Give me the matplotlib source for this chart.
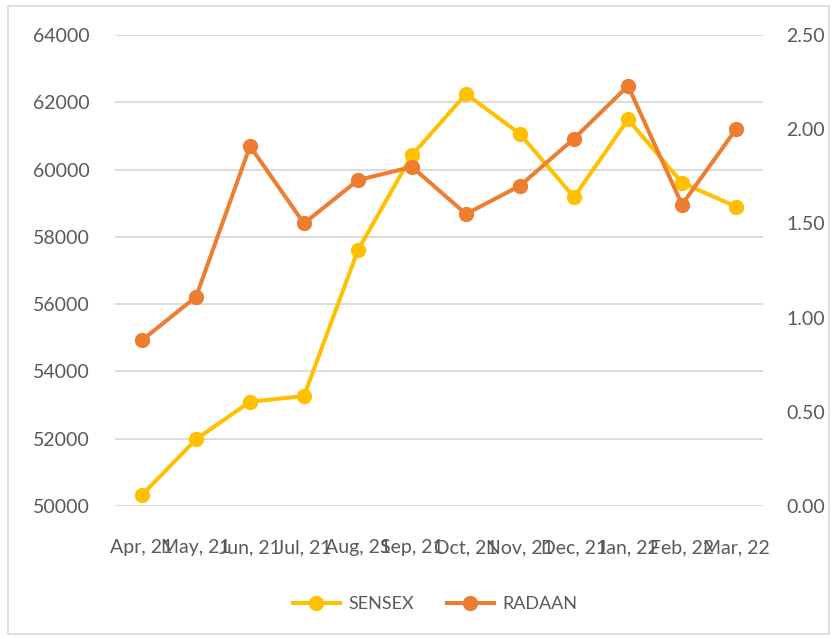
import matplotlib.pyplot as plt
from matplotlib.patches import Rectangle
from matplotlib.ticker import FormatStrFormatter

# data
months = ["Apr, 21", "May, 21", "Jun, 21", "Jul, 21", "Aug, 21", "Sep, 21",
          "Oct, 21", "Nov, 21", "Dec, 21", "Jan, 22", "Feb, 22", "Mar, 22"]
sensex = [50330, 51980, 53100, 53270, 57610, 60430,
          62250, 61060, 59180, 61490, 59610, 58900]
radaan = [0.88, 1.11, 1.91, 1.50, 1.73, 1.80,
          1.55, 1.70, 1.95, 2.23, 1.60, 2.00]

left_ticks = [50000, 52000, 54000, 56000, 58000, 60000, 62000, 64000]
right_ticks = [0.0, 0.5, 1.0, 1.5, 2.0, 2.5]

YELLOW = "#FFC000"
ORANGE = "#ED7D31"
TEXT = "#595959"
GRID = "#D9D9D9"

plt.rcParams['font.family'] = ['Lato', 'DejaVu Sans']

fig = plt.figure(figsize=(8.37, 6.39), dpi=100)
fig.patches.append(Rectangle((0.009, 0.008), 0.982, 0.982, transform=fig.transFigure,
                             fill=False, edgecolor="#D9D9D9", linewidth=1.2))

ax = fig.add_axes([0.1374, 0.2081, 0.7742, 0.7371])
ax2 = ax.twinx()

x = range(len(months))
l1, = ax.plot(x, sensex, color=YELLOW, lw=2.9, marker='o', ms=10, label="SENSEX", zorder=3)
l2, = ax2.plot(x, radaan, color=ORANGE, lw=2.9, marker='o', ms=10, label="RADAAN", zorder=3)

ax.set_xlim(-0.5, len(months) - 0.5)
ax.set_ylim(50000, 64000)
ax.set_yticks(left_ticks)
ax2.set_ylim(0, 2.5)
ax2.set_yticks(right_ticks)
ax2.yaxis.set_major_formatter(FormatStrFormatter('%.2f'))

ax.set_xticks(list(x))
ax.set_xticklabels(months)

ax.grid(axis='y', color=GRID, lw=1.3)
ax.set_axisbelow(True)

for a in (ax, ax2):
    for s in a.spines.values():
        s.set_visible(False)
    a.tick_params(length=0, labelsize=14, labelcolor=TEXT)
ax.tick_params(axis='y', pad=18)
ax.tick_params(axis='x', pad=24)
ax2.tick_params(axis='y', pad=17)

fig.legend(handles=[l1, l2], loc='center', bbox_to_anchor=(0.52, 0.055), ncol=2,
           frameon=False, fontsize=13, labelcolor=TEXT, handlelength=2.6,
           columnspacing=1.8, handletextpad=0.5)

fig.savefig("out.png", dpi=100)
